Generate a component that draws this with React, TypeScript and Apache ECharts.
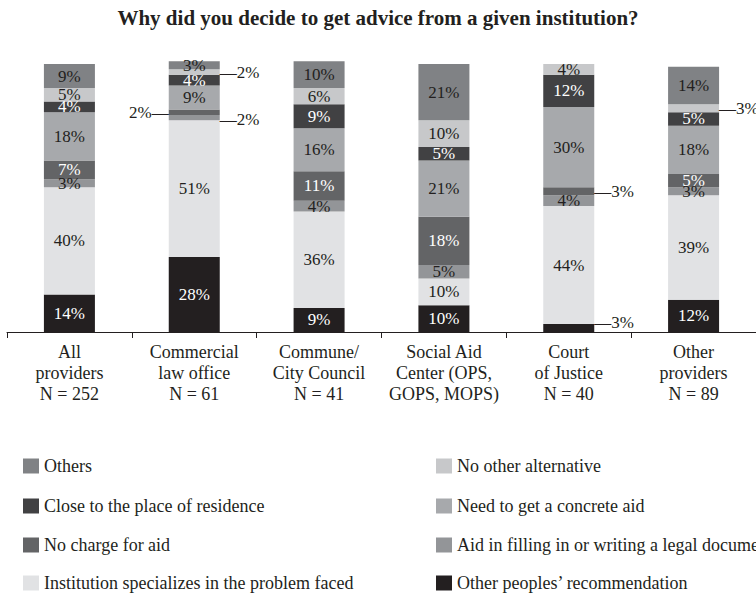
import React, { useEffect, useRef } from "react";
import * as echarts from "echarts";

const categories = [
  "All\nproviders\nN = 252",
  "Commercial\nlaw office\nN = 61",
  "Commune/\nCity Council\nN = 41",
  "Social Aid\nCenter (OPS,\nGOPS, MOPS)",
  "Court\nof Justice\nN = 40",
  "Other\nproviders\nN = 89",
];

// stacked bottom to top
const recommendation = [14, 28, 9, 10, 3, 12];
const specializes = [40, 51, 36, 10, 44, 39];
const legalDocument = [3, 2, 4, 5, 4, 3];
const noCharge = [7, 2, 11, 18, 3, 5];
const concreteAid = [18, 9, 16, 21, 30, 18];
const residence = [4, 4, 9, 5, 12, 5];
const noAlternative = [5, 2, 6, 10, 4, 3];
const others = [9, 3, 10, 21, 0, 14];

const FONT = "Liberation Serif";
const INK = "#231f20";

const seriesDefs = [
  { name: "Other peoples’ recommendation", data: recommendation, color: "#231f20", text: "#ffffff" },
  { name: "Institution specializes in the problem faced", data: specializes, color: "#e1e2e4", text: INK },
  { name: "Aid in filling in or writing a legal document", data: legalDocument, color: "#939598", text: INK },
  { name: "No charge for aid", data: noCharge, color: "#636466", text: "#ffffff" },
  { name: "Need to get a concrete aid", data: concreteAid, color: "#a7a9ac", text: INK },
  { name: "Close to the place of residence", data: residence, color: "#414143", text: "#ffffff" },
  { name: "No other alternative", data: noAlternative, color: "#c7c8ca", text: INK },
  { name: "Others", data: others, color: "#808285", text: INK },
];

// labels drawn outside the bar with a leader dash: [series index, category index, side, dy]
const outsideLabels: [number, number, string, number][] = [
  [2, 1, "right", 2],
  [3, 1, "left", 0],
  [6, 1, "right", 0],
  [3, 4, "right", 0],
  [0, 4, "right", -5],
  [6, 5, "right", 0],
];

// legend order (row-major, two columns): series indices
const legendOrder = [7, 6, 5, 4, 3, 2, 1, 0];
const legendRowTops = [457, 497, 536, 574];
const legendColLefts = [23, 436];

export default function App() {
  const ref = useRef<HTMLDivElement>(null);
  useEffect(() => {
    if (!ref.current) return;
    const chart = echarts.init(ref.current, undefined, { renderer: "svg" });
    const legends = legendOrder.map((si, k) => ({
      orient: "horizontal",
      left: legendColLefts[k % 2],
      top: legendRowTops[Math.floor(k / 2)],
      icon: "rect",
      itemWidth: 16,
      itemHeight: 15,
      itemTextGap: 4,
      selectedMode: false,
      padding: 0,
      data: [seriesDefs[si].name],
      textStyle: { fontSize: 18, lineHeight: 18, color: INK, fontFamily: FONT },
    }));
    chart.setOption({
      animation: false,
      backgroundColor: "#ffffff",
      textStyle: { fontFamily: FONT },
      title: {
        text: "Why did you decide to get advice from a given institution?",
        left: "center",
        top: 2,
        textStyle: { fontSize: 21, fontWeight: "bold", color: INK, fontFamily: FONT },
      },
      legend: legends,
      grid: { left: 7, width: 752.4, top: 37.2, height: 294.8 },
      xAxis: {
        type: "category",
        data: categories,
        axisLine: { lineStyle: { color: INK, width: 1 } },
        axisTick: { show: true, length: 6, lineStyle: { color: INK } },
        axisLabel: {
          interval: 0,
          fontSize: 18,
          lineHeight: 21,
          color: INK,
          fontFamily: FONT,
          margin: 9,
        },
      },
      yAxis: { type: "value", min: 0, max: 110, show: false },
      series: seriesDefs.map((d, si) => ({
        name: d.name,
        type: "bar",
        stack: "total",
        barWidth: 51,
        itemStyle: { color: d.color },
        label: {
          show: true,
          position: "inside",
          color: d.text,
          fontSize: 17,
          fontFamily: FONT,
          formatter: (p: any) => (p.value > 0 ? p.value + "%" : ""),
        },
        data: d.data.map((v, ci) => {
          const o = outsideLabels.find((x) => x[0] === si && x[1] === ci);
          if (!o) return v;
          const side = o[2];
          return {
            value: v,
            label: {
              position: side,
              distance: 0,
              color: INK,
              fontFamily: FONT,
              fontSize: 17,
              offset: [0, o[3]],
              formatter: side === "left" ? "{c}%\u2014" : "\u2014{c}%",
            },
          };
        }),
      })),
    });
    return () => chart.dispose();
  }, []);
  return (
    <div
      ref={ref}
      style={{ position: "fixed", left: 0, top: 0, width: 756, height: 594, background: "#fff" }}
    />
  );
}
